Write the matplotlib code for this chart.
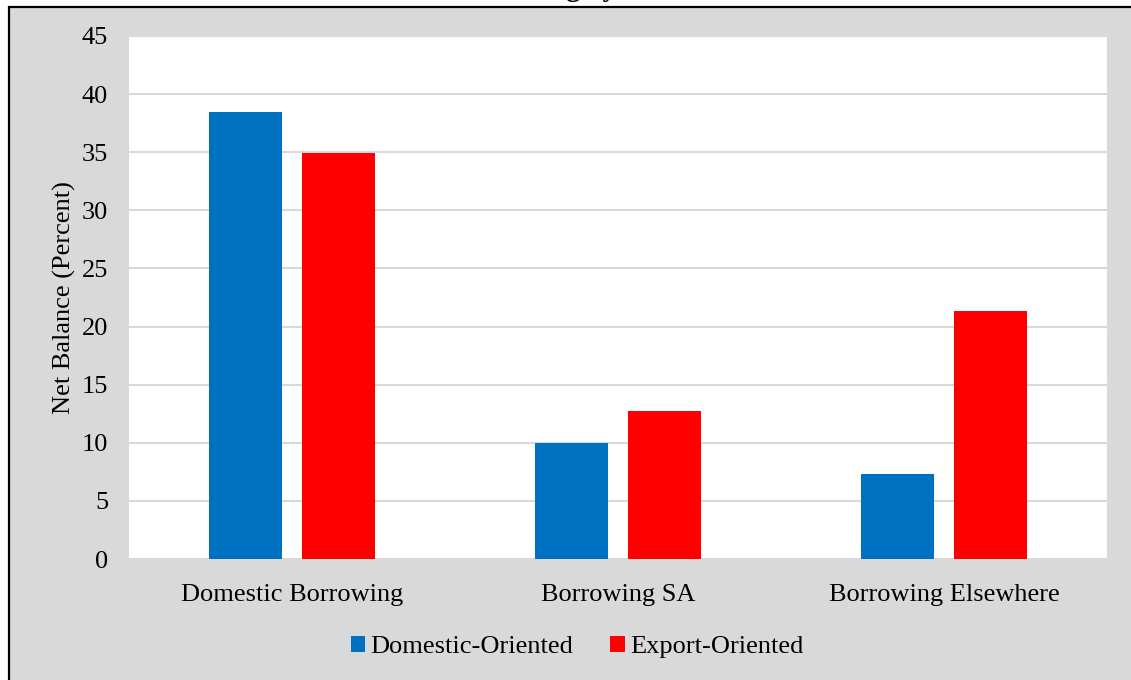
import matplotlib.pyplot as plt
from matplotlib.patches import Rectangle

# bar data
categories = ['Domestic Borrowing', 'Borrowing SA', 'Borrowing Elsewhere']
domestic_oriented = [38.5, 10.0, 7.3]
export_oriented = [34.9, 12.7, 21.3]
series_names = ['Domestic-Oriented', 'Export-Oriented']
y_ticks = [0, 5, 10, 15, 20, 25, 30, 35, 40, 45]

W, H = 1131, 680
plt.rcParams['font.family'] = ['Liberation Serif', 'DejaVu Serif']

fig = plt.figure(figsize=(W / 100, H / 100), dpi=100)
fig.patch.set_facecolor('white')

# grey chart box with black border (runs off the right and bottom edges)
box = Rectangle((8.5 / W, -0.05), 1.1, 1 - 6.5 / H + 0.05, transform=fig.transFigure,
                facecolor='#D9D9D9', edgecolor='black', linewidth=1.6, zorder=0)
fig.patches.append(box)

# title sits above the box, only its lower part is inside the frame
fig.text(453 / W, 1 + 3.5 / H, 'Borrowing by Orientation', fontsize=20, fontweight='bold',
         ha='left', va='baseline')

ax = fig.add_axes([129 / W, 1 - 559 / H, (1107 - 129) / W, (559 - 36) / H])
ax.set_zorder(2)
ax.set_facecolor('white')

x = list(range(len(categories)))
off = 0.1425
bw = 0.224
ax.bar([i - off for i in x], domestic_oriented, width=bw, color='#0070C0',
       label=series_names[0], zorder=3)
ax.bar([i + off for i in x], export_oriented, width=bw, color='#FF0000',
       label=series_names[1], zorder=3)

ax.set_xlim(-0.5, 2.5)
ax.set_ylim(0, 45)
ax.set_yticks(y_ticks)
ax.set_xticks(x)
ax.set_xticklabels(categories)
ax.tick_params(axis='both', length=0, labelsize=19)
ax.tick_params(axis='y', pad=15)
ax.tick_params(axis='x', pad=18)
ax.yaxis.grid(True, color='#D9D9D9', linewidth=1.5, zorder=0)
ax.set_axisbelow(True)
for s in ax.spines.values():
    s.set_visible(False)

ax.set_ylabel('Net Balance (Percent)', fontsize=19, labelpad=4)

leg = fig.legend(loc='center', bbox_to_anchor=(577 / W, 1 - 647 / H), ncol=2, frameon=False,
                 fontsize=19, handlelength=0.55, handleheight=0.55, handletextpad=0.2,
                 columnspacing=1.4)
leg.set_zorder(3)

fig.savefig('out.png', dpi=100)
